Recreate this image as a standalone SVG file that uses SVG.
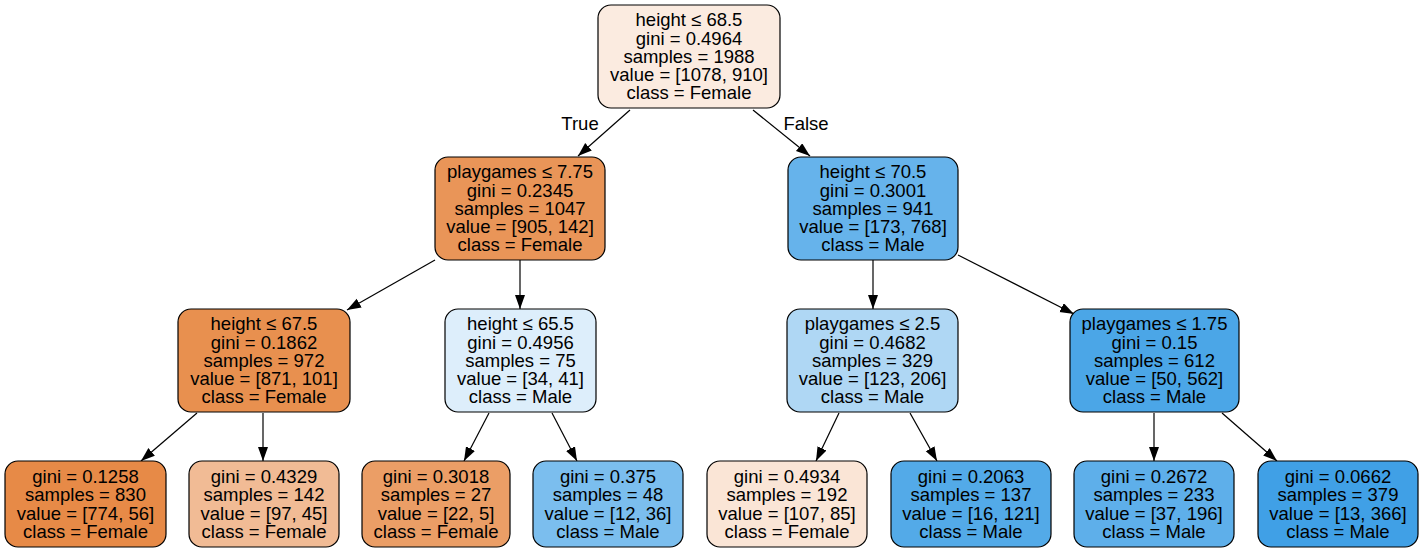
<svg xmlns="http://www.w3.org/2000/svg" width="1424" height="552" viewBox="0 0 1424 552">
<defs>
<style>
.box{stroke:#000;stroke-width:1.2}
text{font-family:"Liberation Sans",Arial,Helvetica,sans-serif;font-size:18.5px;fill:#000;text-anchor:middle}
.edge{stroke:#000;stroke-width:1.2;fill:none;marker-end:url(#arr)}
</style>
<marker id="arr" markerUnits="userSpaceOnUse" markerWidth="16" markerHeight="12" refX="14" refY="5" orient="auto">
<path d="M0,0 L14,5 L0,10 z" fill="#000"/>
</marker>
</defs>
<rect width="1424" height="552" fill="#fff"/>
<g id="connectors">
<line class="edge" x1="630" y1="110" x2="578" y2="156"/>
<line class="edge" x1="753" y1="110" x2="810" y2="156"/>
<line class="edge" x1="435" y1="260" x2="347" y2="310"/>
<line class="edge" x1="520" y1="260" x2="520" y2="309"/>
<line class="edge" x1="873" y1="260" x2="873" y2="309"/>
<line class="edge" x1="958" y1="255" x2="1074" y2="314"/>
<line class="edge" x1="197" y1="413" x2="141" y2="461"/>
<line class="edge" x1="263" y1="413" x2="263" y2="461"/>
<line class="edge" x1="489" y1="413" x2="464" y2="461"/>
<line class="edge" x1="552" y1="413" x2="577" y2="461"/>
<line class="edge" x1="839" y1="413" x2="816" y2="461"/>
<line class="edge" x1="910" y1="413" x2="937" y2="461"/>
<line class="edge" x1="1154" y1="413" x2="1154" y2="461"/>
<line class="edge" x1="1222" y1="413" x2="1277" y2="461"/>
<text x="580" y="130">True</text>
<text x="806" y="130">False</text>
</g>
<g id="n0">
<rect class="box" x="598" y="5" width="182" height="103" rx="13" fill="#fbebe0"/>
<text x="689" y="26.2">height ≤ 68.5</text><text x="689" y="44.5">gini = 0.4964</text><text x="689" y="62.8">samples = 1988</text><text x="689" y="81.1">value = [1078, 910]</text><text x="689" y="99.4">class = Female</text>
</g>
<g id="n1">
<rect class="box" x="435" y="157" width="170" height="103" rx="13" fill="#e99558"/>
<text x="520" y="178.2">playgames ≤ 7.75</text><text x="520" y="196.5">gini = 0.2345</text><text x="520" y="214.8">samples = 1047</text><text x="520" y="233.1">value = [905, 142]</text><text x="520" y="251.4">class = Female</text>
</g>
<g id="n2">
<rect class="box" x="788" y="157" width="170" height="103" rx="13" fill="#66b3eb"/>
<text x="873" y="178.2">height ≤ 70.5</text><text x="873" y="196.5">gini = 0.3001</text><text x="873" y="214.8">samples = 941</text><text x="873" y="233.1">value = [173, 768]</text><text x="873" y="251.4">class = Male</text>
</g>
<g id="n3">
<rect class="box" x="178" y="309" width="172" height="103" rx="13" fill="#e8904f"/>
<text x="264" y="330.2">height ≤ 67.5</text><text x="264" y="348.5">gini = 0.1862</text><text x="264" y="366.8">samples = 972</text><text x="264" y="385.1">value = [871, 101]</text><text x="264" y="403.4">class = Female</text>
</g>
<g id="n4">
<rect class="box" x="445" y="309" width="151" height="103" rx="13" fill="#ddeefb"/>
<text x="520.5" y="330.2">height ≤ 65.5</text><text x="520.5" y="348.5">gini = 0.4956</text><text x="520.5" y="366.8">samples = 75</text><text x="520.5" y="385.1">value = [34, 41]</text><text x="520.5" y="403.4">class = Male</text>
</g>
<g id="n5">
<rect class="box" x="787" y="309" width="171" height="103" rx="13" fill="#afd7f4"/>
<text x="872.5" y="330.2">playgames ≤ 2.5</text><text x="872.5" y="348.5">gini = 0.4682</text><text x="872.5" y="366.8">samples = 329</text><text x="872.5" y="385.1">value = [123, 206]</text><text x="872.5" y="403.4">class = Male</text>
</g>
<g id="n6">
<rect class="box" x="1070" y="309" width="169" height="103" rx="13" fill="#4ba6e7"/>
<text x="1154.5" y="330.2">playgames ≤ 1.75</text><text x="1154.5" y="348.5">gini = 0.15</text><text x="1154.5" y="366.8">samples = 612</text><text x="1154.5" y="385.1">value = [50, 562]</text><text x="1154.5" y="403.4">class = Male</text>
</g>
<g id="l0">
<rect class="box" x="5" y="461" width="161" height="86" rx="13" fill="#e78a47"/>
<text x="85.5" y="482.9">gini = 0.1258</text><text x="85.5" y="501.2">samples = 830</text><text x="85.5" y="519.5">value = [774, 56]</text><text x="85.5" y="537.8">class = Female</text>
</g>
<g id="l1">
<rect class="box" x="189" y="461" width="150" height="86" rx="13" fill="#f1bb95"/>
<text x="264" y="482.9">gini = 0.4329</text><text x="264" y="501.2">samples = 142</text><text x="264" y="519.5">value = [97, 45]</text><text x="264" y="537.8">class = Female</text>
</g>
<g id="l2">
<rect class="box" x="362" y="461" width="148" height="86" rx="13" fill="#eb9e66"/>
<text x="436" y="482.9">gini = 0.3018</text><text x="436" y="501.2">samples = 27</text><text x="436" y="519.5">value = [22, 5]</text><text x="436" y="537.8">class = Female</text>
</g>
<g id="l3">
<rect class="box" x="533" y="461" width="150" height="86" rx="13" fill="#7bbeee"/>
<text x="608" y="482.9">gini = 0.375</text><text x="608" y="501.2">samples = 48</text><text x="608" y="519.5">value = [12, 36]</text><text x="608" y="537.8">class = Male</text>
</g>
<g id="l4">
<rect class="box" x="707" y="461" width="160" height="86" rx="13" fill="#fae5d6"/>
<text x="787" y="482.9">gini = 0.4934</text><text x="787" y="501.2">samples = 192</text><text x="787" y="519.5">value = [107, 85]</text><text x="787" y="537.8">class = Female</text>
</g>
<g id="l5">
<rect class="box" x="891" y="461" width="160" height="86" rx="13" fill="#53aae8"/>
<text x="971" y="482.9">gini = 0.2063</text><text x="971" y="501.2">samples = 137</text><text x="971" y="519.5">value = [16, 121]</text><text x="971" y="537.8">class = Male</text>
</g>
<g id="l6">
<rect class="box" x="1074" y="461" width="160" height="86" rx="13" fill="#5eafea"/>
<text x="1154" y="482.9">gini = 0.2672</text><text x="1154" y="501.2">samples = 233</text><text x="1154" y="519.5">value = [37, 196]</text><text x="1154" y="537.8">class = Male</text>
</g>
<g id="l7">
<rect class="box" x="1258" y="461" width="160" height="86" rx="13" fill="#40a0e6"/>
<text x="1338" y="482.9">gini = 0.0662</text><text x="1338" y="501.2">samples = 379</text><text x="1338" y="519.5">value = [13, 366]</text><text x="1338" y="537.8">class = Male</text>
</g>
</svg>
